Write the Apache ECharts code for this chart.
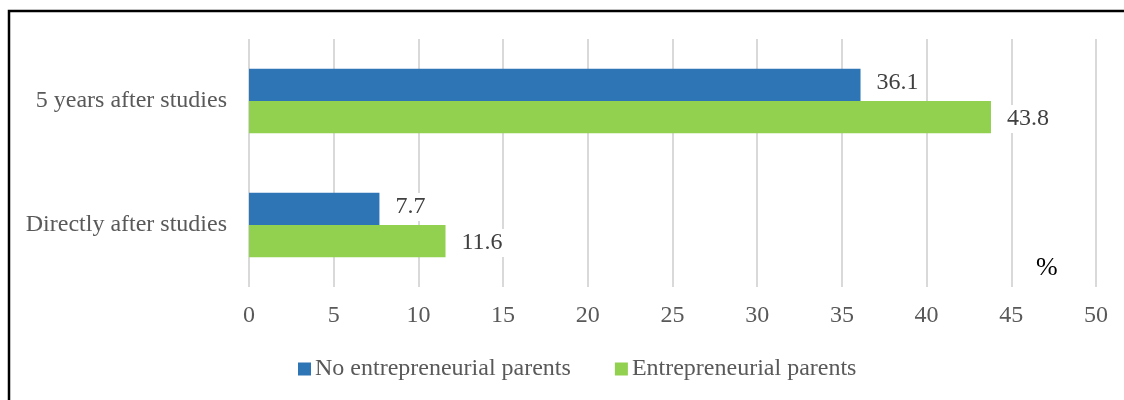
<!DOCTYPE html>
<html>
<head>
<meta charset="utf-8">
<script src="https://cdn.jsdelivr.net/npm/echarts@6/dist/echarts.min.js"></script>
<style>
  html, body { margin: 0; padding: 0; background: #ffffff; }
  #chart { width: 1124px; height: 400px; }
</style>
</head>
<body>
<div id="chart"></div>
<script>
// Share of graduates who started a business, by parental background
const categories = ['Directly after studies', '5 years after studies'];
const noEntrepreneurialParents = [7.7, 36.1];
const entrepreneurialParents = [11.6, 43.8];
const seriesNames = ['No entrepreneurial parents', 'Entrepreneurial parents'];
const xTicks = { min: 0, max: 50, interval: 5 };

const FONT = '"Liberation Serif", "Times New Roman", serif';

const chart = echarts.init(document.getElementById('chart'), null, { renderer: 'canvas' });

// Value labels sit just right of each bar, on a white box that hides the grid line behind them
function valueLabel(dy) {
  return {
    show: true,
    position: 'right',
    distance: 12,
    offset: [0, dy],
    color: '#404040',
    fontFamily: FONT,
    fontSize: 24,
    backgroundColor: '#ffffff',
    padding: [2, 4],
    formatter: p => p.value.toFixed(1)
  };
}

chart.setOption({
  animation: false,
  backgroundColor: '#ffffff',
  textStyle: { fontFamily: FONT },
  graphic: [
    {
      type: 'rect',
      shape: { x: 9, y: 11, width: 1300, height: 600 },
      style: { fill: 'none', stroke: '#000000', lineWidth: 2.5 },
      silent: true
    },
    {
      type: 'text',
      left: 1036,
      top: 255,
      style: { text: '%', fill: '#000000', font: '26px ' + FONT }
    }
  ],
  legend: {
    bottom: 14,
    left: 293,
    itemWidth: 13,
    itemHeight: 13,
    itemGap: 44,
    icon: 'rect',
    textStyle: { color: '#595959', fontSize: 24, fontFamily: FONT, padding: [0, 0, 0, -1] },
    data: seriesNames
  },
  grid: { left: 249, right: 28, top: 39, bottom: 113, containLabel: false },
  xAxis: {
    type: 'value',
    min: xTicks.min,
    max: xTicks.max,
    interval: xTicks.interval,
    axisLine: { show: false },
    axisTick: { show: false },
    axisLabel: { color: '#595959', fontSize: 24, fontFamily: FONT, margin: 17 },
    splitLine: { show: true, lineStyle: { color: '#d9d9d9', width: 2 } }
  },
  yAxis: {
    type: 'category',
    data: categories,
    axisLine: { show: false },
    axisTick: { show: false },
    axisLabel: { color: '#595959', fontSize: 24, fontFamily: FONT, margin: 22 }
  },
  series: [
    {
      name: seriesNames[0],
      type: 'bar',
      data: noEntrepreneurialParents,
      itemStyle: { color: '#2e75b6' },
      barGap: '0%',
      barCategoryGap: '48%',
      label: valueLabel(-2)
    },
    {
      name: seriesNames[1],
      type: 'bar',
      data: entrepreneurialParents,
      itemStyle: { color: '#92d050' },
      barGap: '0%',
      barCategoryGap: '48%',
      label: valueLabel(2)
    }
  ]
});
</script>
</body>
</html>
